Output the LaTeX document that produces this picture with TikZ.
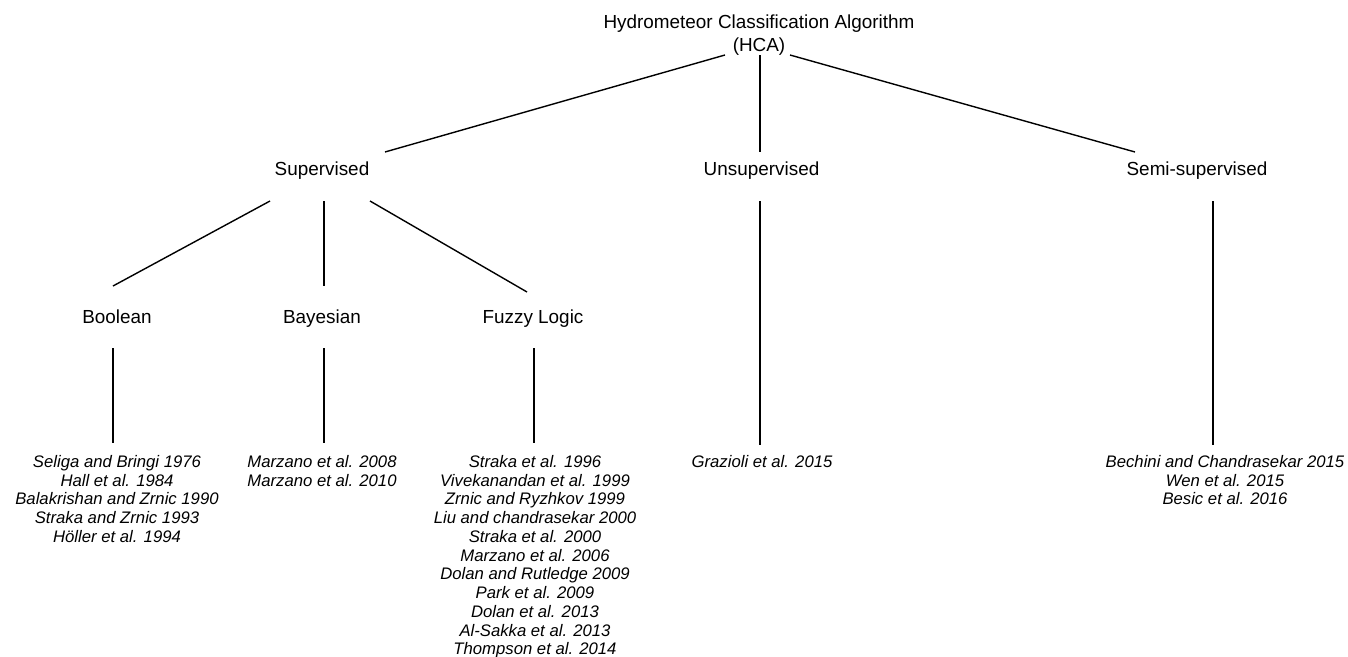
\documentclass[tikz,border=0pt]{standalone}
\usepackage{fontspec}
\setmainfont{Liberation Sans}
\usetikzlibrary{calc}
\begin{document}
\begin{tikzpicture}[x=1pt,y=-1pt,
  lbl/.style={font=\fontsize{18.9}{22.8}\selectfont, align=center, inner sep=0pt},
  refs/.style={font=\fontsize{16.7}{18.75}\selectfont\itshape, align=center, inner sep=0pt, anchor=north},
  conn/.style={line width=1.4pt, black}]
\useasboundingbox[fill=white] (0,0) rectangle (1348,656);
% nodes
\node[lbl] (hca) at (759,35) {Hydrometeor Classification Algorithm\\(HCA)};
\node[lbl] (sup) at (322,170.5) {Supervised};
\node[lbl] (uns) at (761.5,170.5) {Unsupervised};
\node[lbl] (semi) at (1197,170.5) {Semi-supervised};
\node[lbl] (bool) at (117,316.5) {Boolean};
\node[lbl] (bay) at (322,318.5) {Bayesian};
\node[lbl] (fuz) at (533,318.5) {Fuzzy Logic};
\node[refs] (lbool) at (117,455) {Seliga and Bringi 1976\\Hall et al. 1984\\Balakrishan and Zrnic 1990\\Straka and Zrnic 1993\\Höller et al. 1994};
\node[refs] (lbay) at (322,455) {Marzano et al. 2008\\Marzano et al. 2010};
\node[refs] (lfuz) at (535,455) {Straka et al. 1996\\Vivekanandan et al. 1999\\Zrnic and Ryzhkov 1999\\Liu and chandrasekar 2000\\Straka et al. 2000\\Marzano et al. 2006\\Dolan and Rutledge 2009\\Park et al. 2009\\Dolan et al. 2013\\Al-Sakka et al. 2013\\Thompson et al. 2014};
\node[refs] (luns) at (762,455) {Grazioli et al. 2015};
\node[refs] (lsemi) at (1225,455) {Bechini and Chandrasekar 2015\\Wen et al. 2015\\Besic et al. 2016};
% connector end points
\coordinate (hcaL) at (725,55);
\coordinate (hcaM) at (760,55);
\coordinate (hcaR) at (790,55);
\coordinate (supT) at (385,152);
\coordinate (unsT) at (760,152);
\coordinate (semiT) at (1135,152);
\coordinate (supL) at (270,201);
\coordinate (supM) at (324,201);
\coordinate (supR) at (370,201);
\coordinate (boolT) at (113,286);
\coordinate (bayT) at (324,286);
\coordinate (fuzT) at (527,292);
\coordinate (boolB) at (113,348);
\coordinate (bayB) at (324,348);
\coordinate (fuzB) at (534,348);
\coordinate (unsB) at (760,201);
\coordinate (semiB) at (1213,201);
\coordinate (lboolT) at (113,443);
\coordinate (lbayT) at (324,443);
\coordinate (lfuzT) at (534,443);
\coordinate (lunsT) at (760,445);
\coordinate (lsemiT) at (1213,445);
% connectors
\draw[conn] (hcaL) -- (supT);
\draw[conn] (hcaM) -- (unsT);
\draw[conn] (hcaR) -- (semiT);
\draw[conn] (supL) -- (boolT);
\draw[conn] (supM) -- (bayT);
\draw[conn] (supR) -- (fuzT);
\draw[conn] (boolB) -- (lboolT);
\draw[conn] (bayB) -- (lbayT);
\draw[conn] (fuzB) -- (lfuzT);
\draw[conn] (unsB) -- (lunsT);
\draw[conn] (semiB) -- (lsemiT);
\end{tikzpicture}
\end{document}
